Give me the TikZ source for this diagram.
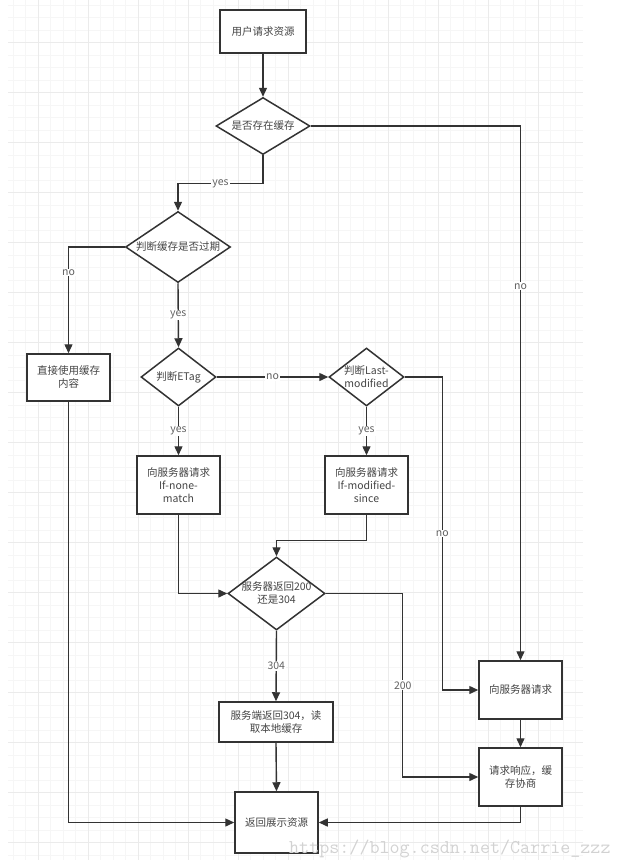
\documentclass[tikz,border=0pt]{standalone}
\usepackage{fontspec}
\setmainfont{Noto Sans CJK SC}
\usepackage{tikz}
\usetikzlibrary{shapes.geometric, arrows.meta, positioning}
\usepackage{xcolor}
\definecolor{linegray}{HTML}{333333}
\definecolor{textgray}{HTML}{454545}
\tikzstyle{process} = [rectangle, minimum width=83pt, minimum height=58pt, text centered, align=center, draw=linegray, line width=1.5pt, fill=white, text=textgray, inner sep=2pt]
\tikzstyle{decision} = [diamond, draw=linegray, line width=1.5pt, fill=white, inner sep=0pt]
\tikzstyle{arrow} = [line width=1.4pt, draw=linegray, -{Triangle[length=9pt,width=8pt]}]
\tikzstyle{tag} = [fill=white, inner sep=1pt, text=textgray!85]

\begin{document}
\begin{tikzpicture}[x=1pt, y=-1pt, every node/.style={font=\fontsize{10.5}{13}\selectfont}, every label/.style={text=textgray, align=center}]
    \useasboundingbox (0,0) rectangle (621,867);
    % grid paper
    \foreach \x in {13,25.5,...,583} \draw[gray!7, line width=0.5pt] (\x,0) -- (\x,860);
    \foreach \y in {5,17.5,...,860} \draw[gray!7, line width=0.5pt] (8,\y) -- (583,\y);
    \foreach \x in {38,88,...,583} \draw[gray!16, line width=0.6pt] (\x,0) -- (\x,860);
    \foreach \y in {42.5,92.5,...,860} \draw[gray!16, line width=0.6pt] (8,\y) -- (583,\y);

    \node (start) [process, minimum width=86pt, minimum height=43pt] at (263,31.5) {用户请求资源};
    \node (d1) [decision, minimum width=94pt, minimum height=57pt, label=center:是否存在缓存] at (263,126) {};
    \node (d2) [decision, minimum width=105pt, minimum height=71pt, label=center:判断缓存是否过期] at (178,247) {};
    \node (use) [process, minimum height=47pt] at (68.5,377.5) {直接使用缓存\\内容};
    \node (d3) [decision, minimum width=75pt, minimum height=58pt, label=center:判断ETag] at (178.5,377) {};
    \node (d4) [decision, minimum width=75pt, minimum height=58pt, label={center:判断Last-\\modified}] at (366.5,377) {};
    \node (reqA) [process] at (178.5,485) {向服务器请求\\If-none-\\match};
    \node (reqB) [process] at (366.5,485) {向服务器请求\\If-modified-\\since};
    \node (d5) [decision, minimum width=97pt, minimum height=73pt, label={center:服务器返回200\\还是304}] at (276.5,593.5) {};
    \node (local) [process, minimum width=114pt, minimum height=40pt] at (276,722) {服务端返回304，读\\取本地缓存};
    \node (show) [process, minimum height=61pt] at (276.5,822.5) {返回展示资源};
    \node (req) [process] at (520.5,690) {向服务器请求};
    \node (resp) [process] at (520.5,777) {请求响应，缓\\存协商};

    \foreach \i/\j in {start/d1, local/show, req/resp} {
        \draw [arrow] (\i.south) -- (\j.north);
    }
    \draw [arrow] (d1.south) -- ++(0,28.5) -| (d2.north) node[tag, pos=0.25] {yes};
    \draw [arrow] (d1.east) -| (req.north) node[tag, pos=0.65] {no};
    \draw [arrow] (d2.west) -| (use.north) node[tag, pos=0.62] {no};
    \draw [arrow] (d2.south) -- (d3.north) node[tag, midway] {yes};
    \draw [arrow] (d3.east) -- (d4.west) node[tag, midway] {no};
    \draw [arrow] (d3.south) -- (reqA.north) node[tag, midway] {yes};
    \draw [arrow] (d4.south) -- (reqB.north) node[tag, midway] {yes};
    \draw [arrow] (d4.east) -- ++(37.5,0) |- (req.west) node[tag, pos=0.25] {no};
    \draw [arrow] (reqA.south) |- (d5.west);
    \draw [arrow] (reqB.south) -- ++(0,26) -| (d5.north);
    \draw [arrow] (d5.south) -- (local.north) node[tag, midway] {304};
    \draw [arrow] (d5.east) -- ++(77,0) |- (resp.west) node[tag, pos=0.25] {200};
    \draw [arrow] (use.south) |- (show.west);
    \draw [arrow] (resp.south) |- (show.east);

    \node (mark) [anchor=base west, text=gray!35, font=\ttfamily\fontsize{19.5}{20}\selectfont, inner sep=0pt] at (289,853) {https://blog.csdn.net/Carrie\_zzz};
\end{tikzpicture}
\end{document}
